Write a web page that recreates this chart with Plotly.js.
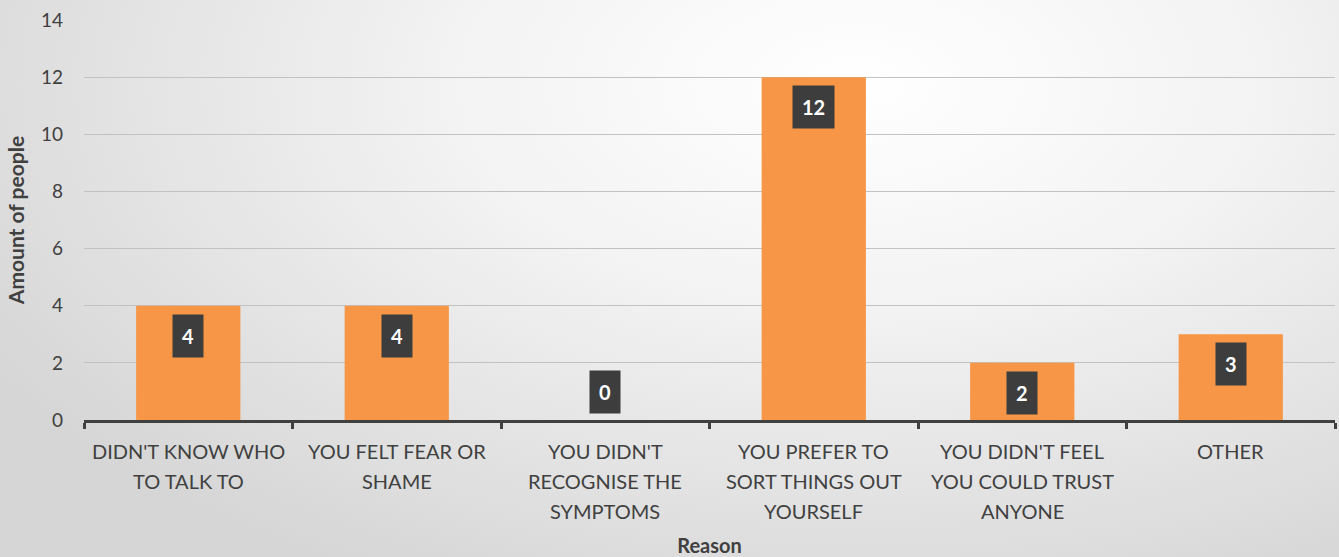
<!DOCTYPE html>
<html>
<head>
<meta charset="utf-8">
<script src="https://cdn.plot.ly/plotly-3.0.1.min.js"></script>
<style>
html,body{margin:0;padding:0;}
body{width:1339px;height:557px;background:radial-gradient(ellipse 75% 100% at 64% 15%, #ffffff 0%, #f3f3f3 40%, #d6d6d6 100%);}
#chart{width:1339px;height:557px;}
</style>
</head>
<body>
<div id="chart"></div>
<script>
const categories = [
  "DIDN'T KNOW WHO<br>TO TALK TO",
  "YOU FELT FEAR OR<br>SHAME",
  "YOU DIDN'T<br>RECOGNISE THE<br>SYMPTOMS",
  "YOU PREFER TO<br>SORT THINGS OUT<br>YOURSELF",
  "YOU DIDN'T FEEL<br>YOU COULD TRUST<br>ANYONE",
  "OTHER"
];
const values = [4, 4, 0, 12, 2, 3];
const yTicks = [0, 2, 4, 6, 8, 10, 12, 14];

const font = "Lato, 'Open Sans', sans-serif";

const annotations = values.map((v, i) => ({
  x: categories[i], y: v, xref: 'x', yref: 'y',
  text: '<b>' + v + '</b>',
  showarrow: false,
  yanchor: v === 0 ? 'bottom' : 'top',
  yshift: v === 0 ? 6 : -8,
  bgcolor: '#3d3d3d',
  borderpad: 9,
  font: {family: font, size: 20, color: '#ffffff'}
}));

// category labels, one line per annotation for Excel-like line spacing
categories.forEach((c) => {
  c.split('<br>').forEach((line, j) => {
    annotations.push({
      x: c, y: 0, xref: 'x', yref: 'paper',
      text: line, showarrow: false,
      yanchor: 'middle', yshift: -31 - 30 * j,
      font: {family: font, size: 20, color: '#404040'}
    });
  });
});

const data = [{
  type: 'bar',
  x: categories,
  y: values,
  marker: {color: '#F79646'},
  hoverinfo: 'skip'
}];

const layout = {
  width: 1339, height: 557,
  margin: {l: 84, r: 4, t: 20, b: 137},
  paper_bgcolor: 'rgba(0,0,0,0)',
  plot_bgcolor: 'rgba(0,0,0,0)',
  bargap: 0.5,
  showlegend: false,
  font: {family: font, color: '#404040'},
  xaxis: {
    type: 'category',
    tickson: 'boundaries',
    ticks: 'outside', ticklen: 6, tickwidth: 3, tickcolor: '#404040',
    showline: true, linecolor: '#404040', linewidth: 3,
    showticklabels: false,
    title: {text: '<b>Reason</b>', font: {family: font, size: 20, color: '#404040'}, standoff: 119},
    automargin: false
  },
  yaxis: {
    range: [0, 14],
    tickvals: yTicks,
    ticktext: yTicks.map(String),
    showgrid: true, gridcolor: '#c2c2c2', gridwidth: 1,
    zeroline: false,
    showline: false,
    ticks: '',
    ticklabelstandoff: 20,
    tickfont: {family: font, size: 19, color: '#404040'},
    title: {text: '<b>Amount of people</b>', font: {family: font, size: 21, color: '#404040'}, standoff: 10},
    automargin: false
  },
  annotations: annotations
};

Plotly.newPlot('chart', data, layout, {displayModeBar: false, staticPlot: true});
</script>
</body>
</html>
